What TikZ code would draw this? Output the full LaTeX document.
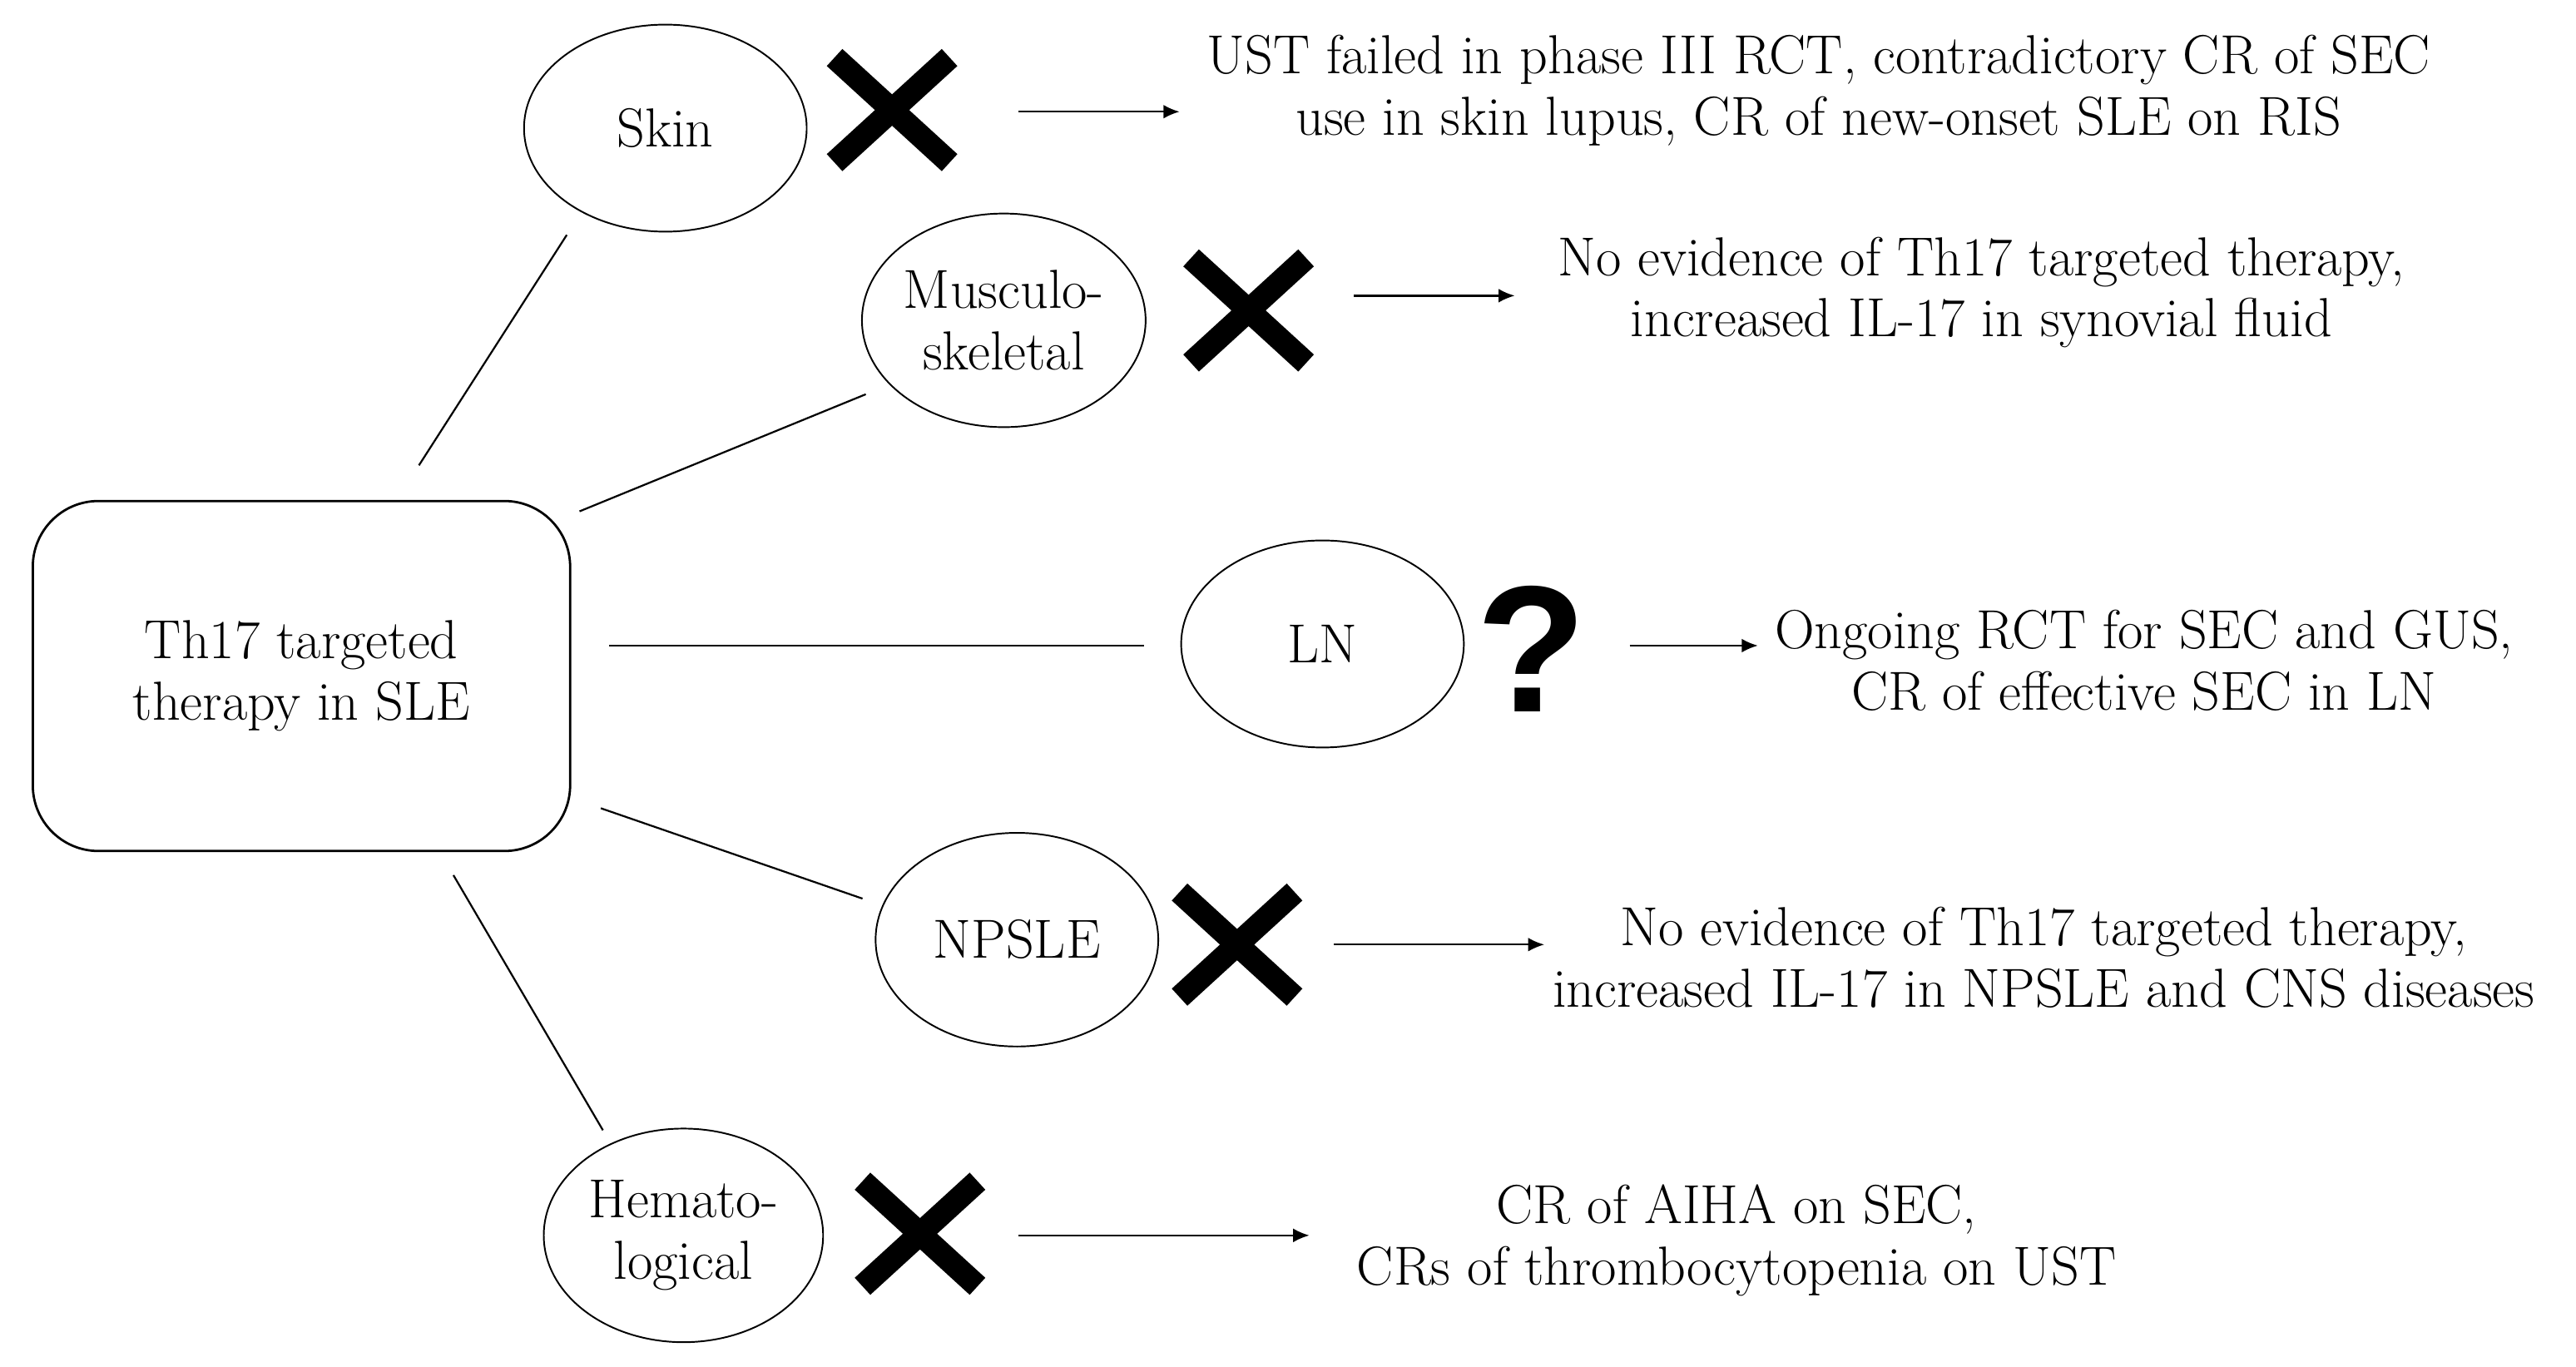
\documentclass[tikz,border=0pt]{standalone}
\usetikzlibrary{shapes.geometric,arrows.meta,calc}
\usepackage{fontspec}
\newfontfamily\qfont{Liberation Sans}
\begin{document}
\begin{tikzpicture}[x=0.025cm,y=-0.025cm,
  txt/.style={font=\fontsize{23.8}{26.6}\selectfont, align=center, inner sep=0},
  organ/.style={draw, ellipse, line width=0.7pt, minimum width=4.3cm, minimum height=3.15cm, inner sep=0, txt},
  conn/.style={line width=0.8pt},
  arr/.style={line width=0.8pt, -{Latex[length=7pt,width=6pt]}},
  cross/.pic={\draw[line width=10pt] (-35,-32)--(35,32) (-35,32)--(35,-32);}
]
\useasboundingbox (0,0) rectangle (1568,832);
\fill[white] (0,0) rectangle (1568,832);
% central box
\node[draw, rounded corners=1cm, line width=1pt, minimum width=8.175cm, minimum height=5.325cm, txt] (box) at (183.5,411.5) {Th17 targeted\\therapy in SLE};
% organs
\node[organ] (skin) at (405,78) {Skin};
\node[organ, minimum height=3.25cm] (msk) at (611,195) {Musculo-\\skeletal};
\node[organ] (ln) at (805,392) {LN};
\node[organ, minimum height=3.25cm] (np) at (619,572) {NPSLE};
\node[organ, minimum width=4.25cm, minimum height=3.25cm] (hem) at (416,752) {Hemato-\\logical};
% connectors
\draw[conn] ([shift={(71.5,-21)}]box.north) -- ([shift={(-60,65)}]skin.center);
\draw[conn] ([shift={(5,7)}]box.north east) -- ([shift={(-84,45)}]msk.center);
\draw[conn] ([shift={(23,-18.5)}]box.east) -- ([shift={(-22,1)}]ln.west);
\draw[conn] ([shift={(18,80.5)}]box.east) -- ([shift={(-94,-25)}]np.center);
\draw[conn] ([shift={(92.5,14)}]box.south) -- ([shift={(-49,-64)}]hem.center);
% marks
\coordinate (skinx) at (543,67);
\coordinate (mskx) at (760,189);
\coordinate (npx) at (753,575);
\coordinate (hemx) at (560,751);
\pic at (skinx) {cross};
\pic at (mskx) {cross};
\pic at (npx) {cross};
\pic at (hemx) {cross};
\node[font=\qfont\bfseries\fontsize{78}{78}\selectfont, inner sep=0] (q) at (932,395) {?};
% texts
\node[txt] (t1) at (1107,55) {UST failed in phase III RCT, contradictory CR of SEC\\use in skin lupus, CR of new-onset SLE on RIS};
\node[txt] (t2) at (1206,178) {No evidence of Th17 targeted therapy,\\increased IL-17 in synovial fluid};
\node[txt] (t3) at (1305,402) {Ongoing RCT for SEC and GUS,\\CR of effective SEC in LN};
\node[txt] (t4) at (1244,583) {No evidence of Th17 targeted therapy,\\increased IL-17 in NPSLE and CNS diseases};
\node[txt] (t5) at (1057,755) {CR of AIHA on SEC,\\CRs of thrombocytopenia on UST};
% arrows
\draw[arr] ([shift={(77,1)}]skinx) -- ([shift={(175,1)}]skinx);
\draw[arr] ([shift={(64,-9)}]mskx) -- ([shift={(162,-9)}]mskx);
\draw[arr] ([shift={(60,-2)}]q.center) -- ([shift={(138,-2)}]q.center);
\draw[arr] ([shift={(59,0)}]npx) -- ([shift={(187,0)}]npx);
\draw[arr] ([shift={(60,1)}]hemx) -- ([shift={(237,1)}]hemx);
\end{tikzpicture}
\end{document}
